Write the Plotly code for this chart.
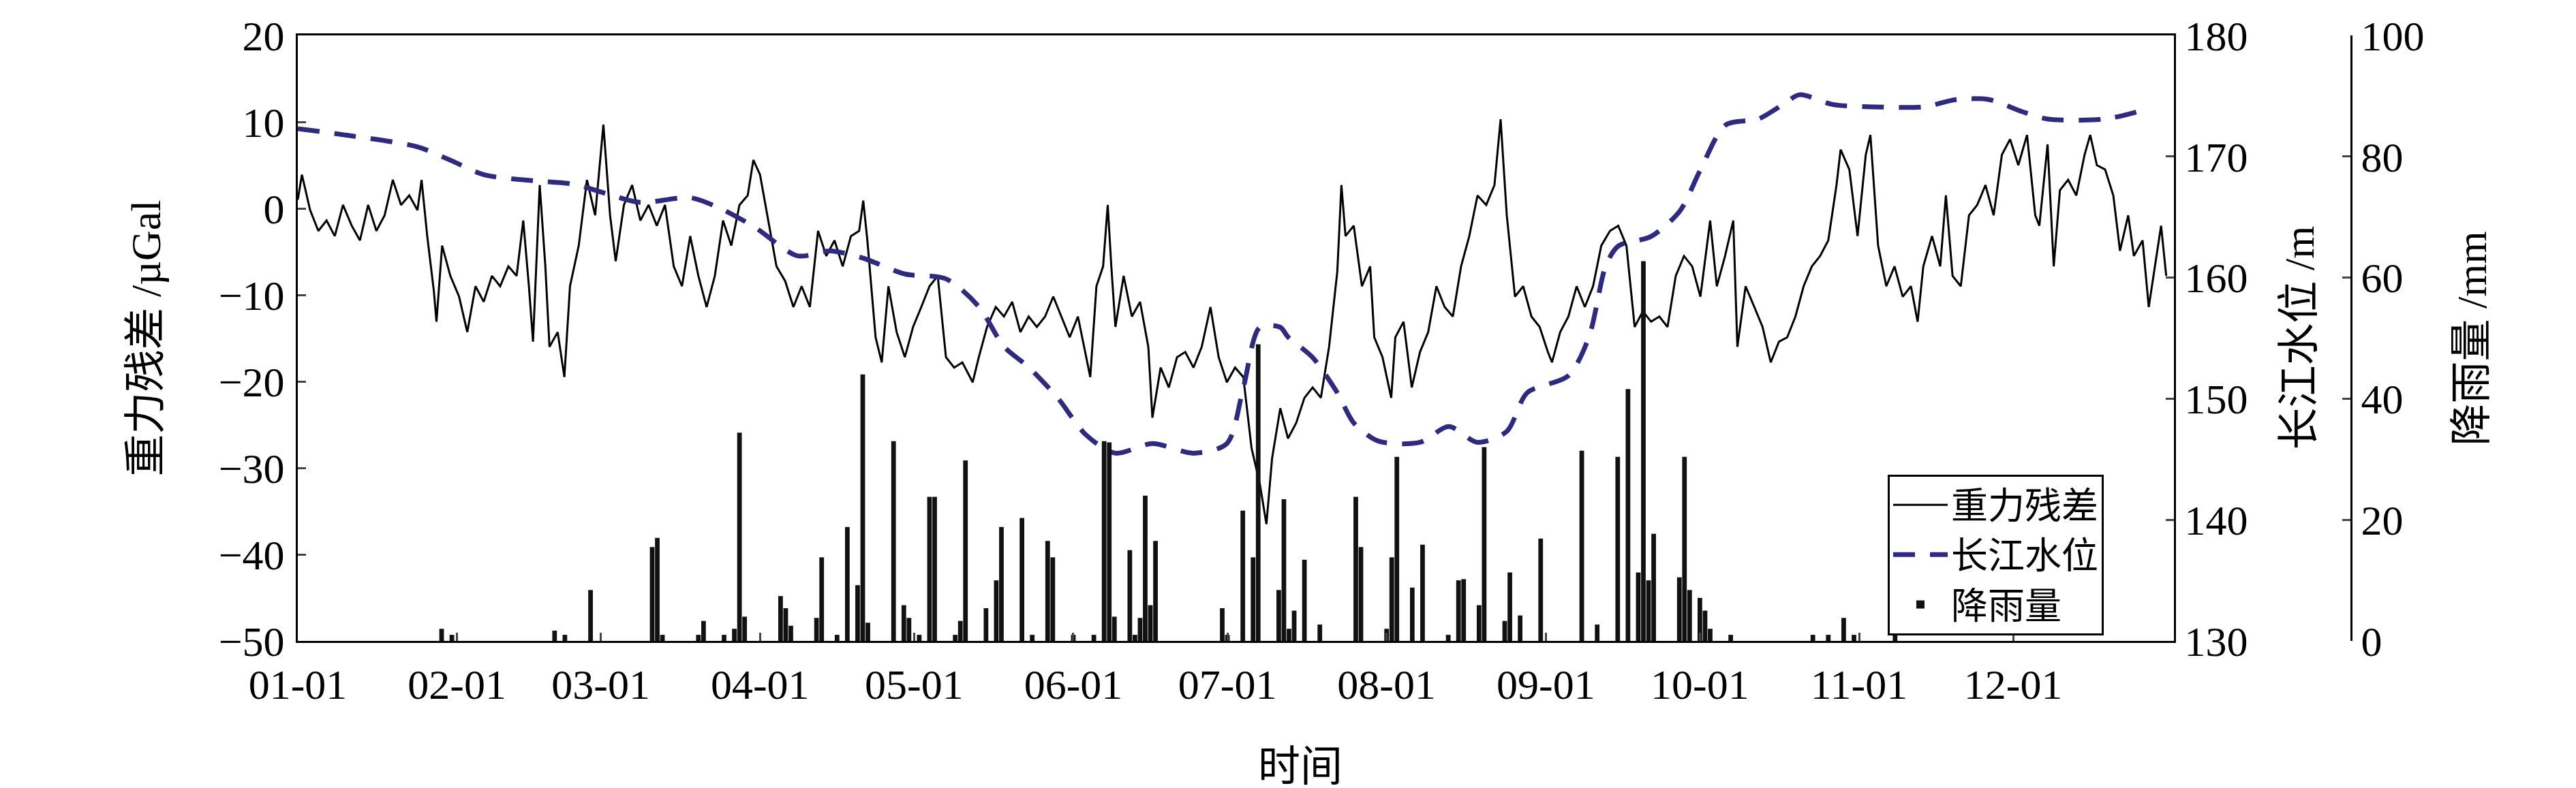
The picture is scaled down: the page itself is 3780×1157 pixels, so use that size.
import pandas as pd
import plotly.graph_objects as go

# gravity residual (uGal), day of year
grav_day = [0, 0.8, 2.4, 4.0, 5.6, 7.2, 8.8, 10.5, 12.1, 13.7, 15.3, 16.9, 18.5, 20.1, 21.7, 23.3, 24.1, 25.2,
            26.5, 27.0, 28.1, 29.7, 31.4, 33.0, 34.6, 36.2, 37.8, 39.4, 41.0, 42.6, 43.9, 45.0, 45.8, 47.1, 48.2,
            49.0, 50.6, 51.9, 53.0, 54.7, 56.3, 57.9, 59.5, 60.8, 61.9, 63.5, 65.1, 66.7, 68.3, 69.9, 71.5, 73.2,
            74.8, 76.4, 78.0, 79.6, 81.2, 82.8, 84.4, 86.0, 87.6, 88.7, 90.0, 91.6, 93.2, 94.9, 96.5, 98.1, 99.7,
            101.3, 102.9, 104.5, 106.1, 107.7, 109.3, 110.1, 110.9, 112.5, 113.7, 115.0, 116.6, 118.2, 119.8,
            121.4, 123.0, 124.6, 126.2, 127.8, 129.4, 131.4, 132.6, 134.2, 135.9, 137.5, 139.1, 140.7, 142.3,
            143.9, 145.5, 147.1, 148.7, 150.3, 151.9, 153.5, 154.3, 155.5, 156.8, 157.7, 158.4, 159.2, 160.8,
            162.4, 164.0, 165.6, 166.4, 168.0, 169.6, 171.2, 172.8, 174.4, 176.0, 177.7, 179.3, 180.9, 182.5,
            184.1, 185.7, 187.3, 188.6, 189.7, 191.3, 192.8,
            194.4, 196.0, 197.6, 199.2, 200.8, 202.4, 203.2, 204.0, 205.6, 207.2, 208.8, 209.6, 211.2, 212.9,
            213.7, 215.3, 216.9, 218.5, 220.1, 221.7, 223.3, 224.9, 226.5, 228.1, 229.7, 231.4, 233.0, 234.2,
            235.4, 237.0, 238.6, 240.2, 241.8, 243.4, 244.2, 245.8, 247.4, 249.0, 250.6, 252.2, 253.8, 255.5,
            257.1, 258.7, 260.3, 261.9, 263.5, 265.1, 266.7, 268.3, 269.9, 271.5, 273.1, 275.0, 276.3, 277.9,
            279.5, 280.3, 281.9, 283.6, 285.2, 286.8, 288.4, 290.0, 291.6, 293.2, 294.8, 296.4, 298.0, 299.6,
            300.4, 302.1, 303.7, 305.3, 306.2, 307.7, 309.3, 310.9, 312.5, 314.1, 315.4, 316.5, 318.2, 319.8,
            320.9, 322.2, 323.8, 325.4, 327.0, 328.6, 330.2, 331.8, 333.4, 335.0, 336.7, 338.3, 339.1, 340.7,
            341.9, 343.1, 344.7, 346.3, 347.9, 349.0, 350.3, 351.9, 353.5, 354.8, 356.4, 357.5, 359.2, 360.4,
            361.6, 362.8, 363.8]
grav_val = [1, 3.9, -0.2, -2.6, -1.4, -3.2, 0.4, -2, -3.7, 0.4, -2.6, -0.8, 3.3, 0.4, 1.5, -0.2, 3.3, -3.2,
            -9.6, -13.1, -4.3, -7.8, -10.2, -14.3, -9, -10.8, -7.8, -9, -6.7, -7.8, -1.4, -9, -15.4, 2.7, -6.7,
            -16, -14.3, -19.5, -9, -4.3, 3.3, -0.8, 9.7, -0.8, -6.1, 0.4, 2.7, -1.4, 0.4, -2, 0.4, -6.7,
            -9, -3.2, -7.8, -11.4, -7.8, -1.4, -4.3, 0.4, 1.5, 5.6, 3.9, -1.4, -6.7, -8.4, -11.4, -9, -11.4,
            -2.6, -5.5, -3.7, -6.7, -3.2, -2.6, 0.9, -3.7, -14.9, -17.8, -9, -14.3, -17.2, -13.7,
            -11.4, -9, -7.8, -17.2, -18.4, -17.8, -20.1, -17.2, -13.7, -11.4, -12.5, -10.8, -14.3, -12.5,
            -13.7, -12.5, -10.2, -12.5, -14.9, -12.5, -17.2, -19.5, -9, -6.7, 0.4, -6.7, -13.7, -7.8,
            -12.5, -10.8, -16, -24.2, -18.4, -20.7, -17.2, -16.6, -18.4, -16, -11.4, -17.2, -20.1, -18.4,
            -19.5, -27.7, -31.8, -36.5, -28.9, -23.1, -26.6,
            -24.8, -21.9, -20.7, -21.9, -16, -7.3, 2.7, -3.2, -2, -9, -6.7, -14.9, -17.2, -21.9,
            -14.9, -13.1, -20.7, -16.6, -14.3, -9, -11.4, -12.5, -6.7, -3.2, 1.5, 0.4, 2.7, 10.3,
            -0.8, -10.2, -9, -12.5, -13.7, -16.6, -17.8, -14.3, -12.5, -9, -11.4, -9, -4.3, -2.6,
            -2, -4.3, -13.7, -11.9, -13.1, -12.5, -13.7, -7.8, -5.5, -6.7, -10.2, -1.4, -9, -5.5,
            -1.4, -16, -9, -11.4, -13.7, -17.8, -15.4, -14.9, -12.5, -9, -6.7, -5.5, -3.7, 2.7,
            6.8, 4.5, -3.2, 6.2, 8.5, -4.3, -9, -6.7, -10.2, -9, -13.1, -6.7, -3.2, -6.7,
            1.5, -7.8, -9, -0.8, 0.4, 2.7, -0.8, 6.2, 8, 5, 8.5, -0.8, -2, 7.4,
            -6.7, 2.1, 3.3, 1.5, 6.2, 8.5, 5, 4.5, 1.5, -4.9, -0.8, -5.5, -3.7, -11.4,
            -6.7, -2, -7.8]

# Yangtze water level (m)
water_day = [0, 10.5, 23.3, 29.7, 36.2, 45.8, 53.9, 60.3, 66.7, 76.4, 82.8, 89.2, 97.3, 103.7, 110.1, 118.2,
             126.2, 132.6, 137.5, 142.3, 147.9, 153.5, 159.2, 166.4, 174.4, 180.9, 184.1, 187.3, 191.3,
             192.8, 197.6, 202.4, 205.6, 210.4, 218.5, 224.1, 229.7, 235.4, 239.4, 247.4, 251.4, 254.7, 257.1,
             263.5, 269.1, 273.1, 278.0, 284.4, 289.2, 292.4, 298.8, 306.9, 316.5, 322.9, 329.3, 335.8, 340.7,
             351.9, 359.9]
water_val = [172.3, 171.7, 170.8, 169.7, 168.5, 168, 167.7, 166.9, 166.2, 166.6, 165.6, 164.1, 161.8, 162.2,
             161.6, 160.3, 159.9, 157.6, 154.3, 152.6, 150.1, 147, 145.5, 146.3, 145.5, 146.3, 150.9, 155.9, 155.9,
             155.1, 153.4, 150.5, 148, 146.5, 146.4, 147.7, 146.4, 147.3, 150.5, 151.9, 155.1, 161, 162.6,
             163.4, 165.5, 168.9, 172.6, 173.1, 174.3, 175.1, 174.3, 174.1, 174.1, 174.7, 174.7, 173.7, 173.1,
             173.1, 173.9]

# rainfall (mm)
rain_day = [28, 30, 50, 52, 57, 69, 70, 71, 78, 79, 83, 85, 86, 87, 94, 95, 96, 101, 102, 105, 107, 109, 110,
            111, 116, 118, 119, 121, 123, 124, 128, 129, 130, 134, 136, 137, 141, 143, 146, 147, 151, 155, 157,
            158, 159, 162, 163, 164, 165, 166, 167, 180, 181, 184, 186, 187, 191, 192, 193, 194, 196, 199, 206,
            207, 212, 213, 214, 217, 219, 224, 226, 227, 230, 231, 235, 236, 238, 242, 250, 253, 257, 259, 261,
            262, 263, 264, 269, 270, 271, 273, 274, 275, 279, 295, 298, 301, 303, 311]
rain_val = [2, 1, 1.7, 1, 8.4, 15.5, 17, 1, 1, 3.3, 1, 2, 34.4, 4, 7.4, 5.4, 2.5, 3.8, 13.8, 1, 18.8, 9.2, 44,
            3, 33, 5.9, 3.8, 1, 23.8, 23.8, 1, 3.3, 29.8, 5.4, 10, 18.8, 20.3, 1, 16.5, 13.8, 1, 1, 33,
            32.8, 4, 15, 1, 3.8, 24, 5.9, 16.5, 5.4, 1, 21.5, 13.8, 49, 8.4, 23.4, 2, 5, 13.4, 2.7, 23.8,
            15.5, 2, 13.8, 30.4, 8.8, 15.9, 1, 10, 10.2, 5.9, 32, 3.3, 11.3, 4.2, 16.9, 31.4, 2.7, 30.4, 41.6, 11.3,
            62.7, 10, 17.7, 10.5, 30.4, 8.4, 7.1, 5, 2, 1, 1, 1, 3.8, 1, 1]

month_ticks = ['01-01', '02-01', '03-01', '04-01', '05-01', '06-01',
               '07-01', '08-01', '09-01', '10-01', '11-01', '12-01']

start = pd.Timestamp('2019-01-01')
to_date = lambda days: [start + pd.Timedelta(days=float(d)) for d in days]

serif = 'Liberation Serif, Noto Sans CJK SC'
fs = 62
plot_w = 3780 - 429 - 320

fig = go.Figure()
fig.add_trace(go.Bar(x=to_date(rain_day), y=rain_val, name='降雨量', yaxis='y3', legendrank=3,
                     marker=dict(color='#111111', line=dict(width=0)), width=86400000 * 0.9))
fig.add_trace(go.Scatter(x=to_date(grav_day), y=grav_val, mode='lines', name='重力残差', legendrank=1,
                         line=dict(color='black', width=3)))
fig.add_trace(go.Scatter(x=to_date(water_day), y=water_val, mode='lines', name='长江水位', yaxis='y2',
                         legendrank=2,
                         line=dict(color='#2E2A80', width=7, dash='32px,22px', shape='spline', smoothing=0.8)))

tickvals = [pd.Timestamp('2019-' + t) for t in month_ticks]
axis_common = dict(ticks='inside', ticklen=12, tickwidth=3, showline=True, linecolor='black',
                   linewidth=3, showgrid=False, zeroline=False)

fig.update_layout(
    width=3780, height=1157,
    paper_bgcolor='white', plot_bgcolor='white',
    margin=dict(l=429, r=320, t=44, b=224),
    font=dict(family=serif, size=fs, color='black'),
    showlegend=True,
    barmode='overlay',
    xaxis=dict(domain=[0, 2753 / plot_w], range=[start, start + pd.Timedelta(days=365.3)],
               tickvals=tickvals, ticktext=month_ticks, mirror=True, ticklabelstandoff=8, **axis_common),
    yaxis=dict(range=[-50, 20], dtick=10, ticklabelstandoff=4, **axis_common),
    yaxis2=dict(range=[130, 180], dtick=10, overlaying='y', side='right', anchor='x', **axis_common),
    yaxis3=dict(range=[0, 100], dtick=20, overlaying='y', side='right', anchor='free',
                position=(3442 - 429) / plot_w, **axis_common),
    legend=dict(x=(2762 - 429) / plot_w, y=0.275, xanchor='left', yanchor='top', traceorder='normal',
                bgcolor='white', bordercolor='black', borderwidth=3, font=dict(size=54),
                itemwidth=80),
    annotations=[
        dict(text='重力残差 /µGal', x=(205 - 429) / plot_w, y=0.5, xref='paper', yref='paper',
             showarrow=False, textangle=-90, xanchor='center', yanchor='middle'),
        dict(text='时间', x=(1900 - 429) / plot_w, y=-(1118 - 933) / 889, xref='paper', yref='paper',
             showarrow=False, xanchor='center', yanchor='middle'),
        dict(text='长江水位 /m', x=(3365 - 429) / plot_w, y=0.5, xref='paper', yref='paper',
             showarrow=False, textangle=-90, xanchor='center', yanchor='middle'),
        dict(text='降雨量 /mm', x=(3618 - 429) / plot_w, y=0.5, xref='paper', yref='paper',
             showarrow=False, textangle=-90, xanchor='center', yanchor='middle'),
    ],
)

fig.write_html('out.html')
